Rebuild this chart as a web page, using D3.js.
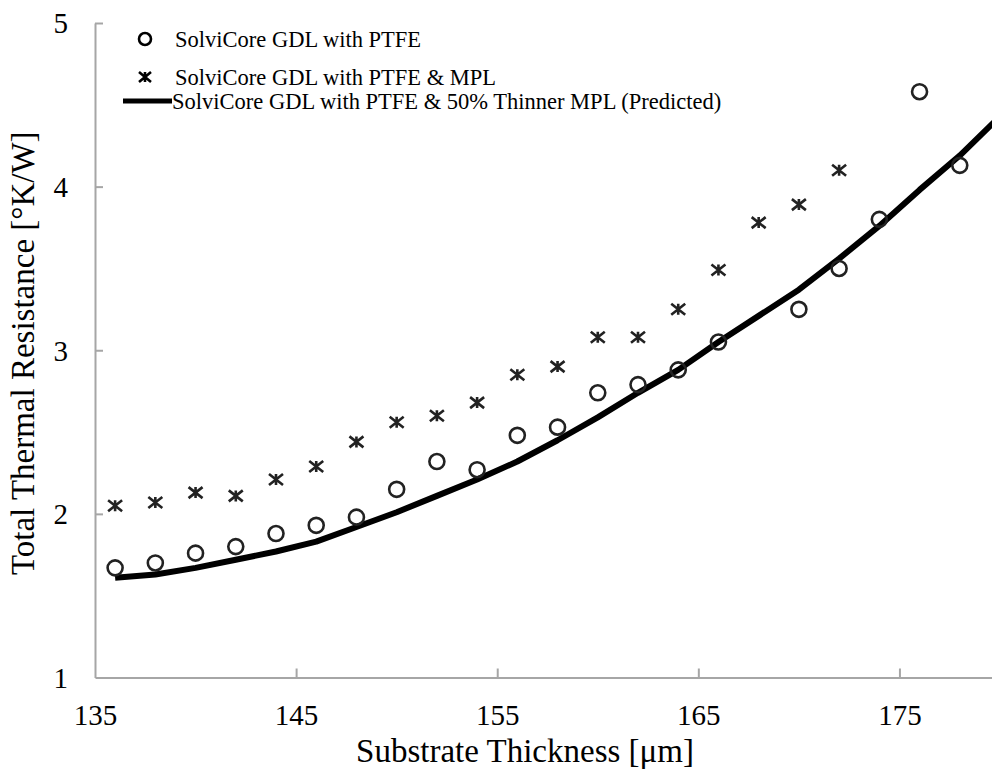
<!DOCTYPE html>
<html>
<head>
<meta charset="utf-8">
<script src="https://cdn.jsdelivr.net/npm/d3@7"></script>
<style>
  body { margin: 0; background: #fff; }
  svg { display: block; font-family: 'Liberation Serif', serif; }
</style>
</head>
<body>
<svg id="chart" width="992" height="770"></svg>
<script>
// thickness values (um)
const ptfeX = [136, 138, 140, 142, 144, 146, 148, 150, 152, 154, 156, 158, 160, 162, 164, 166, 170, 172, 174, 176, 178]
const ptfeY = [1.67, 1.70, 1.76, 1.80, 1.88, 1.93, 1.98, 2.15, 2.32, 2.27, 2.48, 2.53, 2.74, 2.79, 2.88, 3.05, 3.25, 3.50, 3.80, 4.58, 4.13]

const mplX = [136, 138, 140, 142, 144, 146, 148, 150, 152, 154, 156, 158, 160, 162, 164, 166, 168, 170, 172]
const mplY = [2.05, 2.07, 2.13, 2.11, 2.21, 2.29, 2.44, 2.56, 2.60, 2.68, 2.85, 2.90, 3.08, 3.08, 3.25, 3.49, 3.78, 3.89, 4.10]

const predX = [136, 138, 140, 142, 144, 146, 148, 150, 152, 154, 156, 158, 160, 162, 164, 166, 168, 170, 172, 174, 176, 178, 180]
const predY = [1.61, 1.63, 1.67, 1.72, 1.77, 1.83, 1.92, 2.01, 2.11, 2.21, 2.32, 2.45, 2.59, 2.74, 2.88, 3.05, 3.21, 3.37, 3.56, 3.76, 3.98, 4.19, 4.43]

const xTicks = [135, 145, 155, 165, 175]
const yTicks = [1, 2, 3, 4, 5]
const seriesNames = [
    'SolviCore GDL with PTFE',
    'SolviCore GDL with PTFE & MPL',
    'SolviCore GDL with PTFE & 50% Thinner MPL (Predicted)'
]

const svg = d3.select('#chart')
const axisColor = '#a6a6a6'
const markColor = '#222'

const x = d3.scaleLinear().domain([135, 180]).range([95, 1000])
const y = d3.scaleLinear().domain([1, 5]).range([677.5, 23])

// axes (ticks point inward)
const xAxis = svg.append('g')
    .attr('transform', `translate(0,${y(1)})`)
    .call(d3.axisBottom(x).tickValues(xTicks).tickSizeInner(-9).tickSizeOuter(0).tickFormat(d3.format('d')))
xAxis.select('.domain').attr('stroke', axisColor).attr('stroke-width', 2)
xAxis.selectAll('.tick line').attr('stroke', axisColor).attr('stroke-width', 2)
    .filter(d => d === 135).remove()
xAxis.selectAll('.tick text')
    .attr('y', 47).attr('dy', null)
    .attr('font-size', 29).attr('font-family', 'Liberation Serif').attr('fill', '#000')

const yAxis = svg.append('g')
    .attr('transform', `translate(${x(135)},0)`)
    .call(d3.axisLeft(y).tickValues(yTicks).tickSizeInner(-8).tickSizeOuter(0).tickFormat(d3.format('d')))
yAxis.select('.domain').attr('stroke', axisColor).attr('stroke-width', 2)
yAxis.selectAll('.tick line').attr('stroke', axisColor).attr('stroke-width', 2)
    .filter(d => d === 1).remove()
yAxis.selectAll('.tick text')
    .attr('x', -27).attr('dy', '0.34em')
    .attr('font-size', 29).attr('font-family', 'Liberation Serif').attr('fill', '#000')

// axis titles
svg.append('text')
    .attr('x', 525).attr('y', 762)
    .attr('text-anchor', 'middle')
    .attr('font-size', 33)
    .text('Substrate Thickness [μm]')

svg.append('text')
    .attr('transform', `translate(34,${(y(1) + y(5)) / 2 + 3}) rotate(-90)`)
    .attr('text-anchor', 'middle')
    .attr('font-size', 33)
    .text('Total Thermal Resistance [°K/W]')

// predicted line
const line = d3.line().x(d => x(d[0])).y(d => y(d[1]))
svg.append('path')
    .datum(d3.zip(predX, predY))
    .attr('d', line)
    .attr('fill', 'none')
    .attr('stroke', '#000')
    .attr('stroke-width', 6)
    .attr('stroke-linejoin', 'round')

// markers
const starPath = 'M-7,-5.5L7,5.5M-7,5.5L7,-5.5M0,-5.5L0,5.5'

svg.append('g')
    .selectAll('circle')
    .data(d3.zip(ptfeX, ptfeY))
    .join('circle')
    .attr('cx', d => x(d[0]))
    .attr('cy', d => y(d[1]))
    .attr('r', 7.5)
    .attr('fill', 'none')
    .attr('stroke', markColor)
    .attr('stroke-width', 2.6)

svg.append('g')
    .selectAll('path')
    .data(d3.zip(mplX, mplY))
    .join('path')
    .attr('transform', d => `translate(${x(d[0])},${y(d[1])})`)
    .attr('d', starPath)
    .attr('fill', 'none')
    .attr('stroke', markColor)
    .attr('stroke-width', 2.6)

// legend
const legend = svg.append('g')
legend.append('circle')
    .attr('cx', 145).attr('cy', 39).attr('r', 6)
    .attr('fill', 'none').attr('stroke', '#000').attr('stroke-width', 2.6)
legend.append('path')
    .attr('transform', 'translate(145,77)')
    .attr('d', 'M-6,-5L6,5M-6,5L6,-5M0,-5L0,5')
    .attr('fill', 'none').attr('stroke', '#000').attr('stroke-width', 2.6)
legend.append('line')
    .attr('x1', 123).attr('x2', 172).attr('y1', 101).attr('y2', 101)
    .attr('stroke', '#000').attr('stroke-width', 5)

legend.selectAll('text')
    .data(seriesNames)
    .join('text')
    .attr('x', (d, i) => i === 2 ? 172 : 175)
    .attr('y', (d, i) => [39, 77, 101][i])
    .attr('dy', '0.35em')
    .attr('font-size', 22.5)
    .text(d => d)
</script>
</body>
</html>
